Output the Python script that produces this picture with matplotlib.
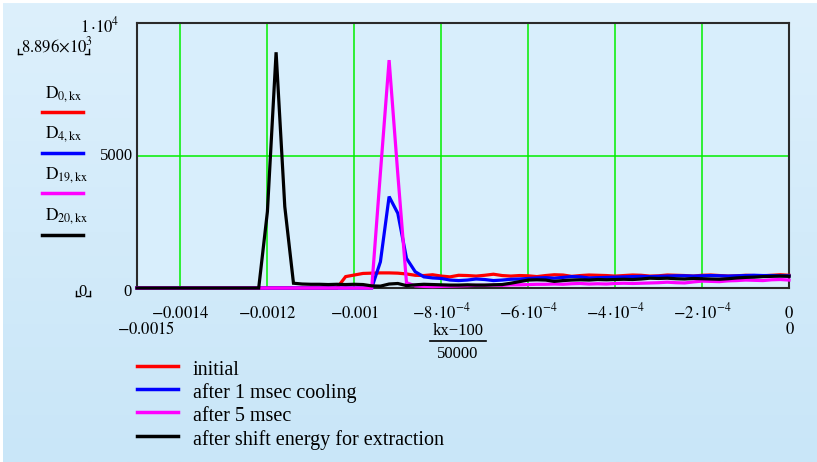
import numpy as np
import matplotlib
matplotlib.use("Agg")
import matplotlib.pyplot as plt
from matplotlib.lines import Line2D
from matplotlib.colors import LinearSegmentedColormap

plt.rcParams['font.family'] = ['Liberation Serif', 'DejaVu Serif']
plt.rcParams['mathtext.fontset'] = 'stix'

# ---------------- data ----------------
kx = np.arange(25, 101)
x_vals = (kx - 100) / 50000.0

D0 = [0] * 24 + [430, 490, 550, 560, 570, 570, 560, 530, 480, 470, 500, 450, 420, 480,
                 470, 450, 480, 520, 470, 450, 470, 460, 430, 470, 500, 490, 440, 470,
                 490, 480, 470, 450, 470, 490, 480, 450, 460, 490, 480, 470, 450, 480,
                 490, 470, 450, 460, 480, 470, 460, 480, 500, 480]
D4 = [0] * 28 + [990, 3450, 2820, 1120, 615, 420, 380, 360, 300, 280,
                 300, 340, 320, 280, 300, 330, 340, 360, 380, 390,
                 370, 400, 430, 420, 380, 390, 400, 410, 420, 430,
                 440, 430, 440, 450, 460, 460, 450, 460, 470, 460,
                 450, 460, 470, 480, 470, 470, 460, 460]
D19 = [0] * 28 + [4350, 8600, 4300, 200, 80, 60, 50, 60, 70, 80,
                  90, 100, 100, 110, 100, 120, 120, 130, 140, 140,
                  150, 140, 160, 170, 150, 160, 150, 170, 180, 170,
                  180, 190, 200, 220, 200, 190, 230, 260, 250, 240,
                  270, 280, 300, 290, 280, 310, 320, 300]
D20 = [0] * 15 + [2880, 8896, 3070, 180,
                  150, 140, 140, 130, 140, 130, 140, 130,
                  80, 70, 150, 170, 90,
                  120, 140, 130, 120, 110, 110, 120, 110, 110, 120,
                  130, 180, 240, 300, 310, 300,
                  250, 280, 300, 310, 300, 320, 310, 320, 330, 320, 340,
                  370, 360, 370, 350, 340, 360, 350, 340, 330, 350, 380,
                  400, 410, 430, 440, 450, 440]

series_names = ["initial", "after 1 msec cooling", "after 5 msec",
                "after shift energy for extraction"]
series_colors = ["#ff0000", "#0000ff", "#ff00ff", "#000000"]
series_labels = [r"$\mathrm{D}_{0,\mathrm{kx}}$", r"$\mathrm{D}_{4,\mathrm{kx}}$",
                 r"$\mathrm{D}_{19,\mathrm{kx}}$", r"$\mathrm{D}_{20,\mathrm{kx}}$"]

xtick_vals = [-0.0014, -0.0012, -0.001, -8e-4, -6e-4, -4e-4, -2e-4, 0]
xtick_labels = [r"$-0.0014$", r"$-0.0012$", r"$-0.001$", r"$-8\,{\cdot}10^{-4}$",
                r"$-6\,{\cdot}10^{-4}$", r"$-4\,{\cdot}10^{-4}$", r"$-2\,{\cdot}10^{-4}$", r"$0$"]

# ---------------- figure ----------------
W, H = 817, 462
fig = plt.figure(figsize=(W / 100, H / 100), dpi=100)
fig.patch.set_facecolor("white")


def fp(x, y):
    return (x / W, 1 - y / H)


# background gradient
bg = fig.add_axes([3 / W, 0, 1 - 3 / W, 1 - 3 / H])
grad = np.linspace(0, 1, 256).reshape(-1, 1)
cmap = LinearSegmentedColormap.from_list("bg", ["#ddf0fc", "#c9e6f8"])
bg.imshow(grad, aspect="auto", cmap=cmap, extent=[0, 1, 0, 1], origin="upper")
bg.set_axis_off()
bg.set_zorder(-10)

L, R, T, B = 137, 789, 23, 288
ax = fig.add_axes([L / W, 1 - B / H, (R - L) / W, (B - T) / H])
ax.set_facecolor("#d8eefc")
ax.set_xlim(-0.0015, 0)
ax.set_ylim(0, 10000)

for ys, c in zip([D0, D4, D19, D20], series_colors):
    ax.plot(x_vals, ys, color=c, lw=2.3, clip_on=False, zorder=3,
            solid_joinstyle="miter")

ax.set_xticks(xtick_vals)
ax.set_xticklabels([])
ax.set_yticks([0, 5000, 10000])
ax.set_yticklabels([])
ax.tick_params(length=0)
ax.grid(True, color="#00ee00", lw=1.1)
ax.set_axisbelow(True)
for s in ax.spines.values():
    s.set_color("#2a2a2a")
    s.set_linewidth(1.5)

tfs = 12
# x tick labels
for xv, lab in zip(xtick_vals, xtick_labels):
    fig.text(*fp(L + (xv + 0.0015) / 0.0015 * (R - L), 318), lab, ha="center",
             va="baseline", fontsize=tfs)
fig.text(*fp(146, 334), r"$-0.0015$", ha="center", va="baseline", fontsize=tfs)
fig.text(*fp(R + 1, 334), r"$0$", ha="center", va="baseline", fontsize=tfs)

# x axis label (fraction)
fig.text(*fp(458, 335), "kx\u2212100", ha="center", va="baseline", fontsize=tfs)
fig.add_artist(Line2D([430 / W, 486 / W], [1 - 341 / H, 1 - 341 / H],
                      color="black", lw=1.2))
fig.text(*fp(458, 358), "50000", ha="center", va="baseline", fontsize=tfs)

# y tick labels
fig.text(*fp(133, 160), "5000", ha="right", va="baseline", fontsize=tfs)
fig.text(*fp(132, 296), "0", ha="right", va="baseline", fontsize=tfs)
fig.text(*fp(119, 32), r"$1\,{\cdot}10^{4}$", ha="right", va="baseline", fontsize=tfs)

# left side labels
fig.text(*fp(21, 52), r"$8.896{\times}10^{3}$", ha="left", va="baseline", fontsize=tfs)
fig.text(*fp(78, 296), "0", ha="left", va="baseline", fontsize=tfs)


def corner(x, y, left=True):
    dx = 4 if left else -4
    fig.add_artist(Line2D([x / W, x / W], [1 - (y - 5) / H, 1 - y / H], color="black", lw=1))
    fig.add_artist(Line2D([x / W, (x + dx) / W], [1 - y / H, 1 - y / H], color="black", lw=1))


corner(18, 54, True)
corner(89, 54, False)
corner(76, 296, True)
corner(90, 296, False)

dl_text_y = [98, 138, 179, 220]
dl_line_y = [112, 153, 193, 235]
for lab, c, ty, ly in zip(series_labels, series_colors, dl_text_y, dl_line_y):
    fig.text(*fp(45, ty), lab, ha="left", va="baseline", fontsize=12.5)
    fig.add_artist(Line2D([42 / W, 83 / W], [1 - ly / H, 1 - ly / H], color=c, lw=2.5))

# bottom legend
leg_line_y = [366, 389, 412, 436]
for name, c, ly in zip(series_names, series_colors, leg_line_y):
    fig.add_artist(Line2D([137 / W, 178 / W], [1 - ly / H, 1 - ly / H], color=c, lw=2.5))
    fig.text(*fp(193, ly + 9), name, ha="left", va="baseline", fontsize=14.5)

fig.savefig("out.png", dpi=100, facecolor=fig.get_facecolor())
